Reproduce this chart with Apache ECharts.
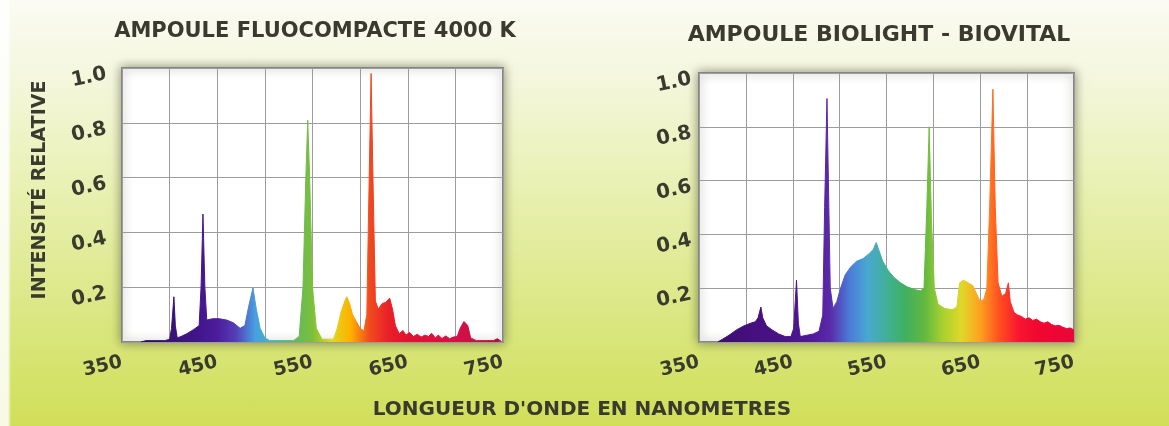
<!DOCTYPE html>
<html>
<head>
<meta charset="utf-8">
<script src="https://cdn.jsdelivr.net/npm/echarts@6/dist/echarts.min.js"></script>
<style>
html,body{margin:0;padding:0;}
#wrap{position:relative;width:1169px;height:426px;
background:
 linear-gradient(to right, rgba(255,255,255,0.85) 0px, rgba(255,255,255,0.85) 8px, rgba(255,255,255,0) 11px),
 linear-gradient(to bottom, #fbfbf4 0%, #f4f7dd 18%, #eaf1b6 42%, #dde98c 68%, #d0df58 100%);}
#chart{width:1169px;height:426px;}
</style>
</head>
<body>
<div id="wrap"><div id="chart"></div></div>
<script>
// ---- data ----
const leftTitle = 'AMPOULE FLUOCOMPACTE 4000 K';
const rightTitle = 'AMPOULE BIOLIGHT - BIOVITAL';
const yAxisTitle = 'INTENSITÉ RELATIVE';
const xAxisTitle = "LONGUEUR D'ONDE EN NANOMETRES";
const xTickLabels = ['350', '450', '550', '650', '750'];
const yTickLabels = ['0.2', '0.4', '0.6', '0.8', '1.0'];

const leftWl = [370,375,395,400,402,404.5,406,408,412,418,425,431,433,435,437,439,445,452,460,467,474,479,483,487.5,491,495,500,505,530,536,540,543,545,547,550,554,560,572,576,580,584,586,589,592,596,600,604,607,609,611.5,614,616,619,623,627,631,634,637,641,645,648,652,656,660,664,668,672,675,679,682,686,690,694,698,702,705,709,713,716,722,740,744,748];
const leftVal = [0,0.005,0.005,0.01,0.05,0.165,0.06,0.015,0.02,0.03,0.045,0.06,0.2,0.467,0.2,0.08,0.085,0.085,0.08,0.07,0.05,0.06,0.13,0.197,0.12,0.05,0.015,0.005,0.005,0.02,0.2,0.6,0.81,0.6,0.2,0.05,0.01,0.01,0.05,0.11,0.15,0.165,0.14,0.1,0.075,0.05,0.04,0.1,0.5,0.98,0.5,0.15,0.12,0.14,0.145,0.16,0.12,0.06,0.03,0.042,0.025,0.035,0.02,0.028,0.018,0.025,0.02,0.032,0.015,0.025,0.013,0.022,0.012,0.018,0.02,0.05,0.075,0.06,0.015,0.005,0.005,0.012,0.003];

const rightWl = [370,375,382,390,398,405,410,413,416,418,422,428,435,442,448,451,454,456,458,465,472,478,482,484,486.5,488.5,490,493,497,501,506,512,518,525,532,536,539,542,546,552,558,565,572,580,586,590,593,595.5,598,601,605,612,620,625,628,632,637,642,646,650,654,657,660,663.5,666,669,673,677,680,682,686,690,694,698,702,706,710,714,718,722,726,730,734,738,742,746,750];
const rightVal = [0,0.01,0.025,0.045,0.06,0.07,0.075,0.09,0.13,0.09,0.06,0.045,0.03,0.02,0.02,0.05,0.23,0.07,0.02,0.025,0.03,0.04,0.1,0.5,0.905,0.5,0.2,0.125,0.15,0.2,0.25,0.28,0.3,0.31,0.33,0.345,0.37,0.34,0.3,0.265,0.24,0.22,0.205,0.195,0.19,0.2,0.5,0.8,0.45,0.2,0.14,0.125,0.12,0.13,0.22,0.23,0.22,0.21,0.18,0.15,0.16,0.2,0.5,0.94,0.5,0.22,0.17,0.18,0.22,0.15,0.11,0.1,0.095,0.085,0.09,0.08,0.085,0.075,0.07,0.075,0.065,0.06,0.062,0.055,0.05,0.052,0.045,0.04];

// spectrum colours, every 20 nm from 350 to 750
const leftColors = ['#2a0a55','#2e0c5e','#35106c','#3b137c','#42158c','#4c1c9c','#5440b8','#48a0e0','#40b8b0','#60b860','#7cbf3a','#e0d820','#ffb000','#f04a20','#e82028','#e41030','#e01038','#da1040','#d01048','#c01040','#a81030'];
const rightColors = ['#3a0a6a','#3c0c70','#420e78','#461080','#481286','#4a148c','#501a98','#5a2aa8','#4a7ad8','#4aa8d0','#40b098','#40b060','#60b840','#a8d030','#e0d828','#ffa020','#ff5020','#f81830','#f00830','#ee0535','#e80838'];

const textColor = '#3a3a2e';
const font = '"DejaVu Sans", Verdana, sans-serif';

const chart = echarts.init(document.getElementById('chart'), null, {renderer: 'canvas'});

function xAxisFor(gi) {
  return {
    type: 'value', gridIndex: gi, min: 350, max: 750, interval: 50,
    axisLine: {show: false}, axisTick: {show: false},
    splitLine: {show: true, lineStyle: {color: '#9c9c9c', width: 1}},
    axisLabel: {
      rotate: 13, margin: 20, color: textColor, fontFamily: font, fontWeight: 'bold', fontSize: 19,
      formatter: v => xTickLabels.includes(String(v)) ? String(v) : ''
    }
  };
}
function yAxisFor(gi, margin) {
  return {
    type: 'value', gridIndex: gi, min: 0, max: 1, interval: 0.2,
    axisLine: {show: false}, axisTick: {show: false},
    splitLine: {show: true, lineStyle: {color: '#9c9c9c', width: 1}},
    axisLabel: {
      rotate: 12, margin: margin, color: textColor, fontFamily: font, fontWeight: 'bold', fontSize: 20,
      verticalAlign: 'top', lineHeight: 12,
      formatter: v => { const s = v.toFixed(1); return yTickLabels.includes(s) ? s : ''; }
    }
  };
}
const gridStyle = {show: true, backgroundColor: '#ffffff', borderColor: '#858585', borderWidth: 2,
  shadowColor: 'rgba(70,70,50,0.55)', shadowBlur: 10, shadowOffsetX: 0, shadowOffsetY: 0};

chart.setOption({
  animation: false,
  backgroundColor: 'transparent',
  grid: [
    Object.assign({left: 122, top: 68, width: 381, height: 274}, gridStyle),
    Object.assign({left: 699, top: 73, width: 375, height: 269}, gridStyle)
  ],
  xAxis: [xAxisFor(0), xAxisFor(1)],
  yAxis: [yAxisFor(0, 17), yAxisFor(1, 9)],
  visualMap: [
    {type: 'continuous', show: false, seriesIndex: 0, dimension: 0, min: 350, max: 750, inRange: {color: leftColors}},
    {type: 'continuous', show: false, seriesIndex: 1, dimension: 0, min: 350, max: 750, inRange: {color: rightColors}}
  ],
  series: [
    {type: 'line', xAxisIndex: 0, yAxisIndex: 0, symbol: 'none', smooth: false,
     lineStyle: {width: 1}, areaStyle: {opacity: 1},
     data: leftWl.map((w, i) => [w, leftVal[i]])},
    {type: 'line', xAxisIndex: 1, yAxisIndex: 1, symbol: 'none', smooth: false,
     lineStyle: {width: 1}, areaStyle: {opacity: 1},
     data: rightWl.map((w, i) => [w, rightVal[i]])}
  ],
  graphic: [
    {type: 'text', x: 315, y: 32, style: {text: leftTitle, fill: textColor, font: 'bold 21px ' + font, textAlign: 'center', textVerticalAlign: 'middle'}},
    {type: 'text', x: 879, y: 35, style: {text: rightTitle, fill: textColor, font: 'bold 22px ' + font, textAlign: 'center', textVerticalAlign: 'middle'}},
    {type: 'text', x: 40, y: 190, rotation: Math.PI / 2, style: {text: yAxisTitle, fill: textColor, font: 'bold 19px ' + font, textAlign: 'center', textVerticalAlign: 'middle'}},
    {type: 'text', x: 582, y: 410, style: {text: xAxisTitle, fill: textColor, font: 'bold 20px ' + font, textAlign: 'center', textVerticalAlign: 'middle'}}
  ]
});
</script>
</body>
</html>
